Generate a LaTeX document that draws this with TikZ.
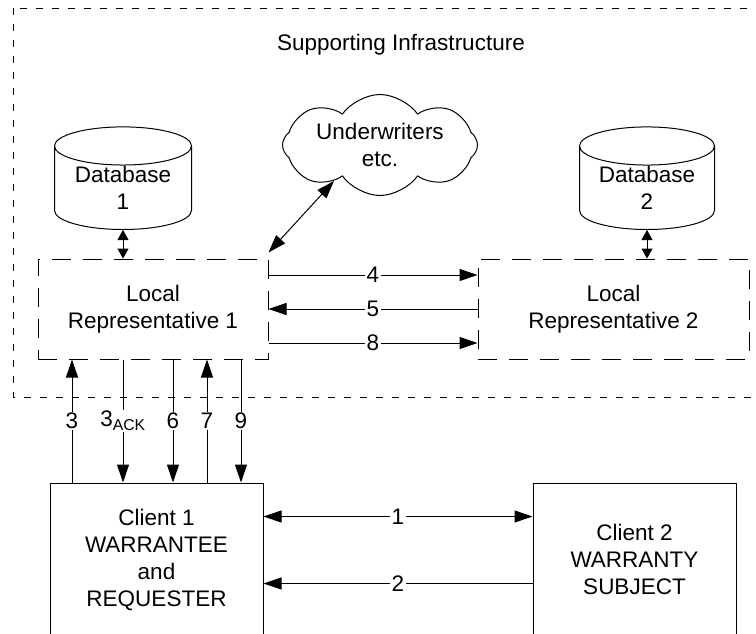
\documentclass[tikz,border=0pt]{standalone}
\usepackage{fontspec}
\setmainfont{Liberation Sans}
\usetikzlibrary{shapes.geometric,shapes.symbols,arrows.meta}
\tikzset{%
  repnode/.style    = {shape=rectangle, draw, align=center,%
                       dash pattern=on 19pt off 12pt, minimum height=100pt},%
  clientnode/.style = {shape=rectangle, draw, align=center,%
                       minimum height=153pt},%
  dbnode/.style     = {shape=cylinder, draw, align=center,%
                       anchor=south, shape border rotate=90,%
                       aspect=0.38, minimum width=137pt},%
  cloudnode/.style  = {shape=cloud, draw, align=center, cloud puffs=8,%
                       cloud puff arc=110, cloud ignores aspect,%
                       minimum width=195pt, minimum height=101pt,%
                       inner sep=0pt},%
  numlabel/.style   = {fill=white, inner sep=1.5pt}%
}
% database label, squeezed so that it sits low in the cylinder
\newcommand{\dbtext}[1]{\rule{0pt}{14.5pt}\smash{Database}\\#1\rule[-4pt]{0pt}{0pt}}

\begin{document}
\begin{tikzpicture}[x=1pt,y=-1pt,line width=1pt,
	every node/.style = {font=\fontsize{22.5}{27}\selectfont, inner sep=2pt},
	>={Triangle[length=18pt,width=12pt]}]
		\useasboundingbox (0,0) rectangle (756,633);
		\draw[dash pattern=on 7pt off 9pt] (13,8) rectangle (775,397);
		\node (infra) at (401,45) {Supporting Infrastructure};
		\node [cloudnode] (uw) at (380,145) {Underwriters\\etc.};
		\node [dbnode] (db1) at (123,230) {\dbtext{1}};
		\node [dbnode, minimum width=135pt] (db2) at (647,230) {\dbtext{2}};
		\node [repnode, minimum width=230pt] (rep1) at (153,309) {Local\\Representative 1};
		\node [repnode, minimum width=271pt] (rep2) at (613.5,309) {Local\\Representative 2};
		\node [clientnode, minimum width=213pt] (client1) at (156.5,559.5)
			{Client 1\\WARRANTEE\\and\\REQUESTER};
		\node [clientnode, minimum width=203pt] (client2) at (634.5,559.5)
			{Client 2\\WARRANTY\\SUBJECT};
		% database links
		\draw[{Triangle[length=10pt,width=11pt]}-{Triangle[length=10pt,width=11pt]}]
			(db1.south) -- (db1.south |- rep1.north);
		\draw[{Triangle[length=10pt,width=11pt]}-{Triangle[length=10pt,width=11pt]}]
			(db2.south) -- (db2.south |- rep2.north);
		\draw[<->] ([yshift=6pt]rep1.north east) -- (uw.218);
		% between the representatives
		\draw[->] ([yshift=34pt]rep1.east) -- ([yshift=34pt]rep2.west)
			node [numlabel, midway] {4};
		\draw[<-] (rep1.east) -- (rep2.west) node [numlabel, midway] {5};
		\draw[->] ([yshift=-34pt]rep1.east) -- ([yshift=-34pt]rep2.west)
			node [numlabel, midway] {8};
		% client 1 and its representative
		\foreach \x/\num/\way in {72/3/<-, 123/3\textsubscript{ACK}/->,
				173/6/->, 207/7/<-, 241/9/->}{
			\coordinate (c) at (\x,0);
			\draw[\way] (rep1.south -| c) -- (client1.north -| c)
				node [numlabel, midway] {\num};
		}
		% between the clients
		\draw[<->] ([yshift=-34pt]client1.north east) -- ([yshift=-34pt]client2.north west)
			node [numlabel, midway] {1};
		\draw[<-] ([yshift=-101pt]client1.north east) -- ([yshift=-101pt]client2.north west)
			node [numlabel, midway] {2};
	\end{tikzpicture}
\end{document}
